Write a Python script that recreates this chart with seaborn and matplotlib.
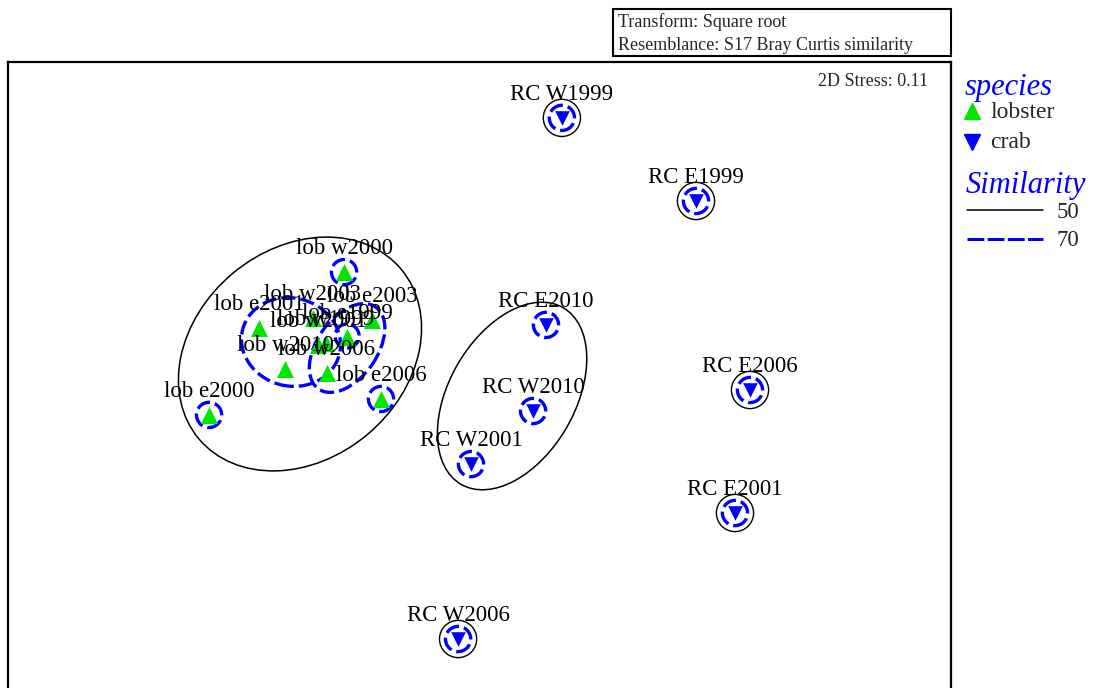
import matplotlib
matplotlib.use("Agg")
import numpy as np
import pandas as pd
import seaborn as sns
from matplotlib import pyplot as plt
from matplotlib.patches import Circle, Ellipse, Rectangle
from matplotlib.lines import Line2D

# MDS ordination (2D)
lobster_labels = ["lob w2000", "lob e2000", "lob e2001", "lob w2003", "lob e2003", "lob e1999",
                  "lob w2001", "lob w1999", "lob w2010", "lob w2006", "lob e2006"]
lobster_x = [-0.453, -0.903, -0.737, -0.557, -0.360, -0.443, -0.540, -0.513, -0.650, -0.510, -0.330]
lobster_y = [0.343, -0.133, 0.157, 0.190, 0.183, 0.127, 0.100, 0.107, 0.020, 0.007, -0.080]

crab_labels = ["RC W1999", "RC E1999", "RC E2010", "RC W2010", "RC W2001", "RC E2006", "RC E2001", "RC W2006"]
crab_x = [0.273, 0.720, 0.220, 0.177, -0.030, 0.900, 0.850, -0.073]
crab_y = [0.857, 0.580, 0.167, -0.120, -0.297, -0.050, -0.460, -0.880]

# samples standing alone at each similarity level (get their own circle)
single_70 = ["lob w2000", "lob e2000", "lob e2006", "RC W1999", "RC E1999", "RC E2010", "RC W2010",
             "RC W2001", "RC E2006", "RC E2001", "RC W2006"]
single_50 = ["RC W1999", "RC E1999", "RC E2006", "RC E2001", "RC W2006"]

# cluster outlines: centre x, centre y, width, height, angle
groups_50 = [(-0.600, 0.070, 0.88, 0.70, 40), (0.107, -0.070, 0.68, 0.42, 60)]
groups_70 = [(-0.630, 0.110, 0.333, 0.293, -15), (-0.443, 0.090, 0.333, 0.200, 55),
             (-0.443, 0.130, 0.080, 0.080, 0)]

df = pd.DataFrame({
    "label": lobster_labels + crab_labels,
    "x": lobster_x + crab_x,
    "y": lobster_y + crab_y,
    "species": ["lobster"] * len(lobster_labels) + ["crab"] * len(crab_labels),
})

sns.set_style("white")
plt.rcParams["font.family"] = ["Liberation Serif", "DejaVu Serif"]

green = "#00e600"
blue = "#0000ff"
dash = (0, (4.3, 1.5))

fig = plt.figure(figsize=(10.95, 6.88), dpi=100)
ax = fig.add_axes([8 / 1095, -12 / 688, 943 / 1095, 638 / 688])

sns.scatterplot(data=df[df.species == "lobster"], x="x", y="y", marker="^", color=green,
                s=150, linewidth=0, ax=ax, legend=False, zorder=5)
sns.scatterplot(data=df[df.species == "crab"], x="x", y="y", marker="v", color=blue,
                s=110, linewidth=0, ax=ax, legend=False, zorder=5)

pos = df.set_index("label")
for name in single_70:
    ax.add_patch(Circle((pos.loc[name, "x"], pos.loc[name, "y"]), 0.042, fill=False,
                        edgecolor=blue, lw=2.4, linestyle=dash, zorder=4))
for name in single_50:
    ax.add_patch(Circle((pos.loc[name, "x"], pos.loc[name, "y"]), 0.062, fill=False,
                        edgecolor="black", lw=1.0, zorder=4))
for cx, cy, w, h, a in groups_50:
    ax.add_patch(Ellipse((cx, cy), w, h, angle=a, fill=False, edgecolor="black", lw=1.1, zorder=3))
for cx, cy, w, h, a in groups_70:
    ax.add_patch(Ellipse((cx, cy), w, h, angle=a, fill=False, edgecolor=blue, lw=2.4,
                         linestyle=dash, zorder=4))

for _, r in df.iterrows():
    ax.annotate(r["label"], (r["x"], r["y"]), xytext=(0, 17), textcoords="offset points",
                ha="center", va="center", fontsize=16.5, color="black", zorder=6)

ax.set_xlim(-1.5733, 1.57)
ax.set_ylim(-1.0833, 1.0433)
ax.set_xticks([])
ax.set_yticks([])
ax.set_xlabel("")
ax.set_ylabel("")
for sp in ax.spines.values():
    sp.set_color("black")
    sp.set_linewidth(1.6)
ax.text(0.976, 0.97, "2D Stress: 0.11", transform=ax.transAxes, ha="right", va="center",
        fontsize=13)

# overlay in pixel units for the header box and legend
ov = fig.add_axes([0, 0, 1, 1], zorder=10)
ov.set_xlim(0, 1095)
ov.set_ylim(688, 0)
ov.axis("off")
ov.patch.set_alpha(0)

ov.add_patch(Rectangle((613, 9), 338, 47, fill=False, edgecolor="black", lw=1.5))
ov.text(618, 22, "Transform: Square root", fontsize=13, va="center", ha="left")
ov.text(618, 46, "Resemblance: S17 Bray Curtis similarity", fontsize=13, va="center", ha="left")

ov.text(965, 88, "species", fontsize=22, style="italic", color=blue, va="center", ha="left")
ov.plot([972], [111], marker="^", color=green, ms=12, lw=0)
ov.plot([972], [142], marker="v", color=blue, ms=12, lw=0)
ov.text(990, 113, "lobster", fontsize=17, va="center", ha="left")
ov.text(990, 143, "crab", fontsize=17, va="center", ha="left")
ov.text(966, 186, "Similarity", fontsize=22, style="italic", color=blue, va="center", ha="left")
ov.add_line(Line2D([967, 1043], [210, 210], color="black", lw=1.1))
ov.add_line(Line2D([967, 1043], [239, 239], color=blue, lw=2.2, linestyle=(0, (5.5, 1.1))))
ov.text(1057, 212, "50", fontsize=16.5, va="center", ha="left")
ov.text(1057, 241, "70", fontsize=16.5, va="center", ha="left")

fig.savefig("out.png", dpi=100)
